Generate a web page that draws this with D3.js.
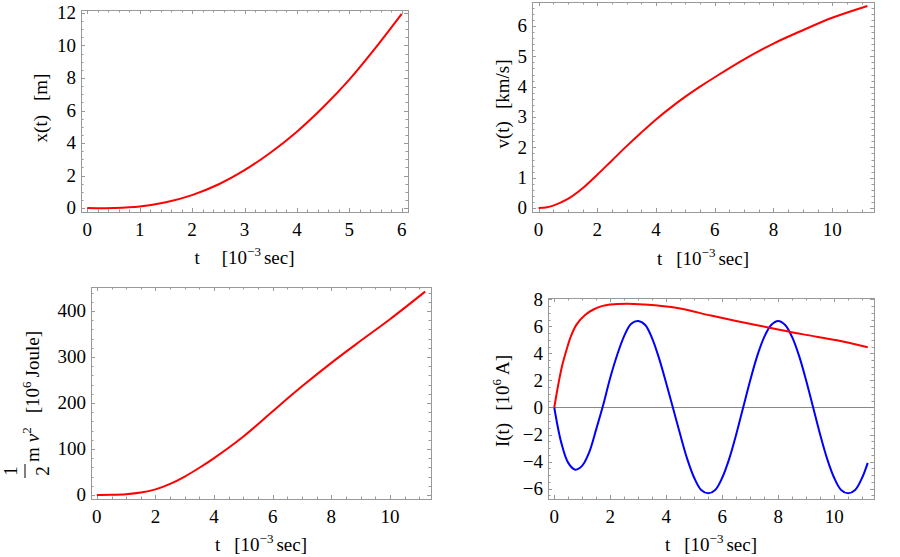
<!DOCTYPE html>
<html>
<head>
<meta charset="utf-8">
<script src="https://cdn.jsdelivr.net/npm/d3@7"></script>
<style>
body { margin: 0; background: #fff; }
svg text { font-family: "Liberation Serif", "Times New Roman", Times, "DejaVu Serif", serif; font-size: 19px; fill: #000; }
</style>
</head>
<body>
<svg width="900" height="557" font-family="Liberation Serif, Times New Roman, serif"></svg>
<script>
// x(t) in m, t in 10^-3 sec
var tPos = [0, 0.5, 1, 1.5, 2, 2.5, 3, 3.5, 4, 4.5, 5, 5.5, 6];
var xPos = [0, 0.01, 0.1, 0.36, 0.8, 1.45, 2.33, 3.42, 4.7, 6.2, 7.9, 9.85, 11.94];

// v(t) in km/s
var tVel = [0, 0.25, 0.5, 1, 1.5, 2, 2.5, 3, 3.5, 4, 4.5, 5, 5.5, 6, 7, 8, 9, 10, 11.2];
var vVel = [0, 0.02, 0.08, 0.3, 0.65, 1.1, 1.57, 2.04, 2.49, 2.92, 3.31, 3.67, 4.0, 4.31, 4.9, 5.42, 5.86, 6.27, 6.66];

// 1/2 m v^2 in 10^6 Joule
var tEn = [0, 0.5, 1, 1.5, 2, 2.5, 3, 3.5, 4, 5, 6, 7, 8, 9, 10, 11.2];
var eEn = [0, 0.2, 1.5, 5, 12, 24, 40, 59, 80, 127, 182, 236, 287, 335, 382, 442];

// I(t) in 10^6 A, red
var tCur = [0, 0.1, 0.2, 0.3, 0.45, 0.6, 0.8, 1.1, 1.4, 1.7, 2, 2.6, 3.2, 4.4, 5.6, 6.5, 7.7, 8.9, 10.1, 11.2];
var iCur = [0, 1.2, 2.3, 3.25, 4.35, 5.3, 6.15, 6.85, 7.25, 7.5, 7.62, 7.68, 7.62, 7.36, 6.8, 6.4, 5.9, 5.41, 4.97, 4.45];

// blue curve
var tOsc = [0, 0.25, 0.5, 0.75, 1, 1.25, 1.5, 1.75, 2, 2.25, 2.5, 2.75, 3, 3.25, 3.5, 3.75, 4, 4.25, 4.5, 4.75,
            5, 5.25, 5.5, 5.75, 6, 6.25, 6.5, 6.75, 7, 7.25, 7.5, 7.75, 8, 8.25, 8.5, 8.75, 9, 9.25, 9.5, 9.75,
            10, 10.25, 10.5, 10.75, 11, 11.2];
var iOsc = [0, -2.6, -4.1, -4.6, -4.3, -3.3, -1.6, 0.2, 2.2, 3.9, 5.3, 6.2, 6.4, 6.1, 5.1, 3.6, 1.8, -0.1, -2.0, -3.8,
            -5.2, -6.1, -6.35, -6.1, -5.2, -3.8, -2.0, 0, 2.0, 3.8, 5.2, 6.1, 6.4, 6.1, 5.2, 3.8, 2.0, 0, -2.0, -3.8,
            -5.2, -6.1, -6.35, -6.1, -5.2, -4.1];

// tick labels
var xTicks1 = [0, 1, 2, 3, 4, 5, 6];
var yTicks1 = [0, 2, 4, 6, 8, 10, 12];
var xTicksLong = [0, 2, 4, 6, 8, 10];
var yTicks2 = [0, 1, 2, 3, 4, 5, 6];
var yTicks3 = [0, 100, 200, 300, 400];
var yTicks4 = [-6, -4, -2, 0, 2, 4, 6, 8];

var svg = d3.select("svg");
var serif = "'Liberation Serif', 'Times New Roman', Times, 'DejaVu Serif', serif";
var frameColor = "#999";
var majorLen = 4;
var minorLen = 2.5;

function makePanel(left, top, right, bottom, xDom, yDom) {
    var p = {left: left, top: top, right: right, bottom: bottom};
    p.x = d3.scaleLinear().domain(xDom).range([left, right]);
    p.y = d3.scaleLinear().domain(yDom).range([bottom, top]);
    return p;
}

function tick(x1, y1, x2, y2) {
    svg.append("line")
        .attr("x1", x1).attr("y1", y1).attr("x2", x2).attr("y2", y2)
        .attr("stroke", frameColor).attr("stroke-width", 1);
}

function label(parent) {
    return parent.append("text").style("font-family", serif).style("font-size", "19px");
}

function drawFrame(p, xTicks, xMinor, yTicks, yMinor) {
    var xd = p.x.domain(), yd = p.y.domain();
    var xMin = d3.range(Math.ceil(xd[0] / xMinor) * xMinor, xd[1], xMinor);
    var yMin = d3.range(Math.ceil(yd[0] / yMinor) * yMinor, yd[1], yMinor);

    xMin.forEach(function(v) {
        var X = Math.round(p.x(v)) + 0.5;
        var len = xTicks.some(function(m) { return Math.abs(m - v) < 1e-6; }) ? majorLen : minorLen;
        tick(X, p.bottom, X, p.bottom - len);
        tick(X, p.top, X, p.top + len);
    });
    yMin.forEach(function(v) {
        var Y = Math.round(p.y(v)) + 0.5;
        var len = yTicks.some(function(m) { return Math.abs(m - v) < 1e-6; }) ? majorLen : minorLen;
        tick(p.left, Y, p.left + len, Y);
        tick(p.right, Y, p.right - len, Y);
    });

    svg.append("rect")
        .attr("x", p.left + 0.5).attr("y", p.top + 0.5)
        .attr("width", p.right - p.left).attr("height", p.bottom - p.top)
        .attr("fill", "none").attr("stroke", frameColor);

    xTicks.forEach(function(v) {
        label(svg)
            .attr("x", p.x(v)).attr("y", p.bottom + 24)
            .attr("text-anchor", "middle")
            .text(d3.format("d")(v));
    });
    yTicks.forEach(function(v) {
        label(svg)
            .attr("x", p.left - 5).attr("y", p.y(v))
            .attr("dy", "0.33em")
            .attr("text-anchor", "end")
            .text(d3.format("d")(v));
    });
}

function drawCurve(p, ts, vs, color) {
    var line = d3.line()
        .x(function(d) { return p.x(d[0]); })
        .y(function(d) { return p.y(d[1]); })
        .curve(d3.curveCatmullRom.alpha(0.5));
    svg.append("path")
        .attr("d", line(d3.zip(ts, vs)))
        .attr("fill", "none")
        .attr("stroke", color)
        .attr("stroke-width", 2);
}

function xTitle(p, gap, baseline) {
    var t = label(svg)
        .attr("x", (p.left + p.right) / 2).attr("y", baseline)
        .attr("text-anchor", "middle");
    t.append("tspan").text("t");
    t.append("tspan").attr("dx", gap).text("[10");
    t.append("tspan").attr("dy", -8).style("font-size", "13px").text("\u22123");
    t.append("tspan").attr("dy", 8).attr("dx", 3).text("sec]");
}

function yTitle(x, y, parts) {
    var t = label(svg)
        .attr("transform", "translate(" + x + "," + y + ") rotate(-90)")
        .attr("text-anchor", "middle");
    parts(t);
}

// panels
var p1 = makePanel(81, 10, 408, 212, [-0.12, 6.12], [-0.24, 12.18]);
var p2 = makePanel(532, 2, 874, 212, [-0.224, 11.424], [-0.13, 6.79]);
var p3 = makePanel(91, 287, 431, 499, [-0.2, 11.4], [-8.9, 452]);
var p4 = makePanel(548, 298, 874, 499, [-0.224, 11.424], [-6.77, 8.1]);

drawFrame(p1, xTicks1, 0.2, yTicks1, 0.5);
drawFrame(p2, xTicksLong, 0.5, yTicks2, 0.2);
drawFrame(p3, xTicksLong, 0.5, yTicks3, 20);
drawFrame(p4, xTicksLong, 0.5, yTicks4, 0.5);

// axis line at zero in the current plot
svg.append("line")
    .attr("x1", p4.left).attr("x2", p4.right)
    .attr("y1", Math.round(p4.y(0)) + 0.5).attr("y2", Math.round(p4.y(0)) + 0.5)
    .attr("stroke", "#888").attr("stroke-width", 1);

drawCurve(p1, tPos, xPos, "#ff0000");
drawCurve(p2, tVel, vVel, "#ff0000");
drawCurve(p3, tEn, eEn, "#ff0000");
drawCurve(p4, tOsc, iOsc, "#0000ff");
drawCurve(p4, tCur, iCur, "#ff0000");

xTitle(p1, 22, 264);
xTitle(p2, 14, 265);
xTitle(p3, 14, 551);
xTitle(p4, 14, 551);

yTitle(47, 108, function(t) {
    t.append("tspan").text("x(t)");
    t.append("tspan").attr("dx", 14).text("[m]");
});
yTitle(509, 104, function(t) {
    t.append("tspan").text("v(t)");
    t.append("tspan").attr("dx", 12).text("[km/s]");
});
yTitle(509, 401, function(t) {
    t.append("tspan").text("I(t)");
    t.append("tspan").attr("dx", 12).text("[10");
    t.append("tspan").attr("dy", -8).style("font-size", "13px").text("6");
    t.append("tspan").attr("dy", 8).attr("dx", 4).text("A]");
});

// 1/2 m v^2 label, built in rotated coordinates
var e = svg.append("g").attr("transform", "translate(39,480) rotate(-90)");
label(e).attr("x", 9).attr("y", -22).attr("text-anchor", "middle").text("1");
label(e).attr("x", 9).attr("y", 10).attr("text-anchor", "middle").text("2");
e.append("line").attr("x1", 2).attr("x2", 16).attr("y1", -14).attr("y2", -14)
    .attr("stroke", "#000").attr("stroke-width", 1);
var et = label(e).attr("x", 18).attr("y", 0);
et.append("tspan").text("m");
et.append("tspan").attr("dx", 5).style("font-style", "italic").text("\u03bd");
et.append("tspan").attr("dy", -8).style("font-size", "13px").text("2");
et.append("tspan").attr("dy", 8).attr("dx", 14).text("[10");
et.append("tspan").attr("dy", -8).style("font-size", "13px").text("6");
et.append("tspan").attr("dy", 8).attr("dx", 4).text("Joule]");
</script>
</body>
</html>
